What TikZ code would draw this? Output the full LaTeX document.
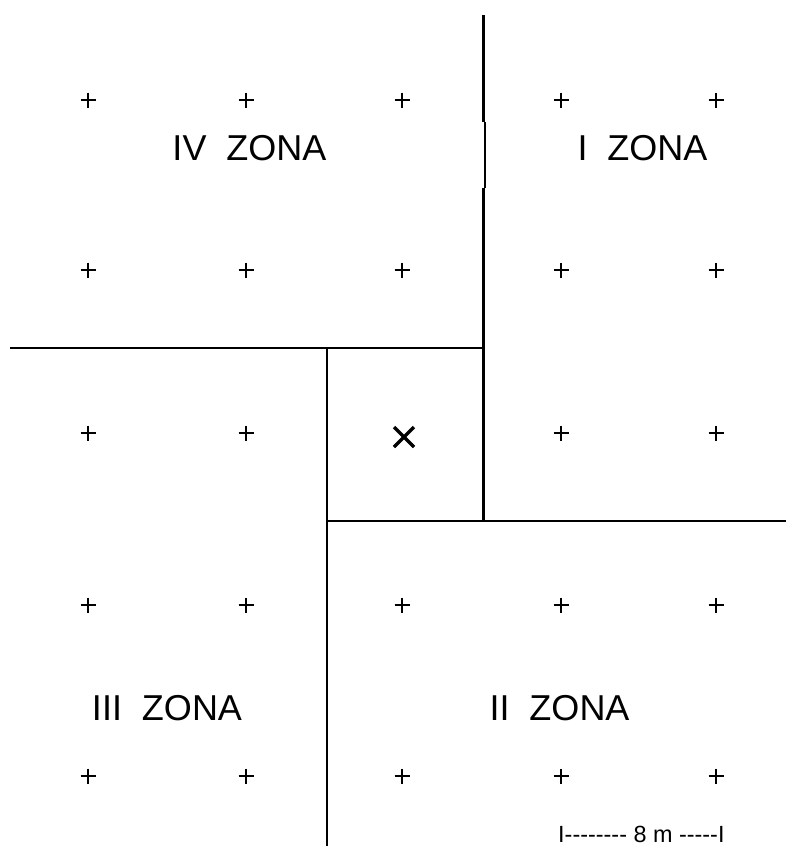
\documentclass[tikz,border=0pt]{standalone}
\usepackage{fontspec}
\setmainfont{Liberation Sans}
\begin{document}
\begin{tikzpicture}[x=1pt,y=-1pt,
  wall/.style={line width=2.5pt},
  zonelabel/.style={font=\fontsize{36}{43}\selectfont, anchor=base, inner sep=0pt},
  plusmark/.style={line width=2.2pt},
  crossmark/.style={line width=3.4pt},
  scaletext/.style={font=\fontsize{23.4}{28}\selectfont, anchor=base west, inner sep=0pt}]
\useasboundingbox (0,0) rectangle (786,846);
% walls
\draw[wall] (483.7,15) -- (483.7,122);
\draw[wall] (485.2,122) -- (485.2,188);
\draw[wall] (483.7,188) -- (483.7,521);
\draw[wall] (10,348) -- (483.7,348);
\draw[wall] (327,348) -- (327,846);
\draw[wall] (327,521) -- (786,521);
% plus marks
\foreach \y in {100,270,605,776}{
  \foreach \x in {88,246,402,561,716}{
    \draw[plusmark] (\x-7.5,\y) -- (\x+7.5,\y) (\x,\y-7.5) -- (\x,\y+7.5);
  }
}
\foreach \x in {88,246,561,716}{
  \draw[plusmark] (\x-7.5,433) -- (\x+7.5,433) (\x,433-7.5) -- (\x,433+7.5);
}
% cross
\draw[crossmark] (394,427) -- (414,447) (394,447) -- (414,427);
% labels
\node[zonelabel] (z4) at (249.5,160) {IV\ \ ZONA};
\node[zonelabel] (z1) at (642.5,160) {I\ \ ZONA};
\node[zonelabel] (z3) at (167,720) {III\ \ ZONA};
\node[zonelabel] (z2) at (559.5,720) {II\ \ ZONA};
\node[scaletext] (sc) at (558,842) {I-{}-{}-{}-{}-{}-{}-{}- 8 m -{}-{}-{}-{}-I};
\end{tikzpicture}
\end{document}
